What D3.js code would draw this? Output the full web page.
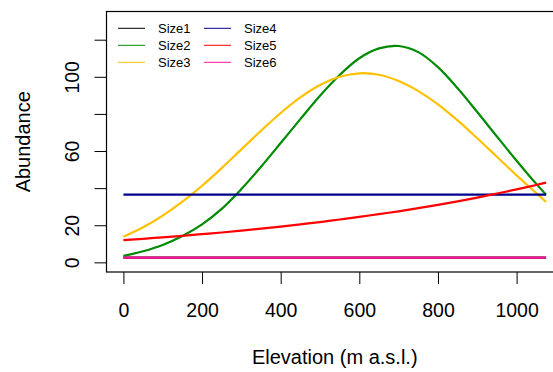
<!DOCTYPE html>
<html>
<head>
<meta charset="utf-8">
<script src="https://cdn.jsdelivr.net/npm/d3@7"></script>
<style>
body { margin: 0; background: #fff; }
svg { display: block; font-family: "Liberation Sans", Arial, sans-serif; }
</style>
</head>
<body>
<script>
// data
var elevation = [0,50,100,150,200,250,300,350,400,450,500,550,600,650,700,750,800,850,900,950,1000,1050,1075];
var size1 = [2.5,2.5,2.5,2.5,2.5,2.5,2.5,2.5,2.5,2.5,2.5,2.5,2.5,2.5,2.5,2.5,2.5,2.5,2.5,2.5,2.5,2.5,2.5];
var size2 = [3.5,6.0,9.4,14.2,20.5,28.8,39.5,51.5,64.3,77.2,89.8,101.0,110.0,115.3,116.6,113.3,105.2,93.8,81.0,67.8,54.8,42.3,36.5];
var size3 = [13.8,18.9,25.2,32.7,41.3,50.8,60.9,70.9,80.5,88.9,95.6,100.0,101.9,101.1,97.7,92.3,85.2,76.5,66.9,56.9,46.9,37.3,32.5];
var size4 = [36.5,36.5,36.5,36.5,36.5,36.5,36.5,36.5,36.5,36.5,36.5,36.5,36.5,36.5,36.5,36.5,36.5,36.5,36.5,36.5,36.5,36.5,36.5];
var size5 = [12.0,12.7,13.5,14.3,15.2,16.1,17.1,18.2,19.3,20.5,21.7,23.1,24.5,26.0,27.5,29.2,31.0,32.9,34.9,37.1,39.3,41.7,43.0];
var size6 = [2.5,2.5,2.5,2.5,2.5,2.5,2.5,2.5,2.5,2.5,2.5,2.5,2.5,2.5,2.5,2.5,2.5,2.5,2.5,2.5,2.5,2.5,2.5];

var seriesNames = ["Size1","Size2","Size3","Size4","Size5","Size6"];
var seriesColors = ["#000000","#008B00","#FFC000","#00008B","#FF0000","#FF1493"];
var xTicks = [0,200,400,600,800,1000];
var yTicks = [0,20,40,60,80,100,120];
var yTickLabels = [0,20,60,100];

var allSeries = [size1,size2,size3,size4,size5,size6];

var w = 553, h = 372;
var plotLeft = 106.5, plotRight = 563, plotTop = 11.5, plotBottom = 272;

var svg = d3.select("body").append("svg")
  .attr("width",w).attr("height",h);

// R style 4% padding
var xScale = d3.scaleLinear().domain([-43,1118]).range([plotLeft,plotRight]);
var yScale = d3.scaleLinear().domain([-5.2,135.2]).range([plotBottom,plotTop]);

// lines
var line = d3.line()
  .x(function(d,i){ return xScale(elevation[i]); })
  .y(function(d){ return yScale(d); })
  .curve(d3.curveCatmullRom.alpha(0.5));

svg.selectAll("path.series")
  .data(allSeries)
  .enter()
  .append("path")
  .attr("class","series")
  .attr("d",line)
  .attr("fill","none")
  .attr("stroke",function(d,i){ return seriesColors[i]; })
  .attr("stroke-width",2.2);

// axes
var xAxis = d3.axisBottom(xScale).tickValues(xTicks).tickSize(12).tickPadding(19).tickSizeOuter(0)
  .tickFormat(d3.format("d"));
var gx = svg.append("g").attr("transform","translate(0,"+plotBottom+")").call(xAxis);
gx.select(".domain").remove();
gx.selectAll("text").attr("font-size","19.5px").attr("fill","#000").attr("font-family","Liberation Sans, Arial, sans-serif");
gx.selectAll("line").attr("stroke","#000");

var yAxis = d3.axisLeft(yScale).tickValues(yTicks).tickSize(12).tickSizeOuter(0)
  .tickFormat(function(d){ return yTickLabels.indexOf(d) >= 0 ? d : ""; });
var gy = svg.append("g").attr("transform","translate("+plotLeft+",0)").call(yAxis);
gy.select(".domain").remove();
gy.selectAll("line").attr("stroke","#000");
gy.selectAll("text")
  .attr("font-size","19.5px").attr("fill","#000").attr("font-family","Liberation Sans, Arial, sans-serif")
  .attr("text-anchor","middle")
  .attr("x",0).attr("dy",0)
  .attr("transform","translate(-28,0) rotate(-90)");

// box
svg.append("rect")
  .attr("x",plotLeft).attr("y",plotTop)
  .attr("width",plotRight-plotLeft).attr("height",plotBottom-plotTop)
  .attr("fill","none").attr("stroke","#000").attr("stroke-width",1.2);

// axis titles
svg.append("text")
  .attr("x",(plotLeft+plotRight)/2).attr("y",364)
  .attr("text-anchor","middle").attr("font-size","20px")
  .text("Elevation (m a.s.l.)");

svg.append("text")
  .attr("transform","translate(30,"+((plotTop+plotBottom)/2)+") rotate(-90)")
  .attr("text-anchor","middle").attr("font-size","20px")
  .text("Abundance");

// legend
var legend = svg.selectAll("g.leg")
  .data(seriesNames)
  .enter()
  .append("g")
  .attr("class","leg")
  .attr("transform",function(d,i){
    var col = Math.floor(i/3), row = i%3;
    return "translate("+(118+col*86)+","+(28.3+row*17)+")";
  });

legend.append("line")
  .attr("x1",0).attr("x2",27).attr("y1",0).attr("y2",0)
  .attr("stroke",function(d,i){ return seriesColors[i]; })
  .attr("stroke-width",1);

legend.append("text")
  .attr("x",40).attr("y",4.6)
  .attr("font-size","13px")
  .text(function(d){ return d; });
</script>
</body>
</html>
